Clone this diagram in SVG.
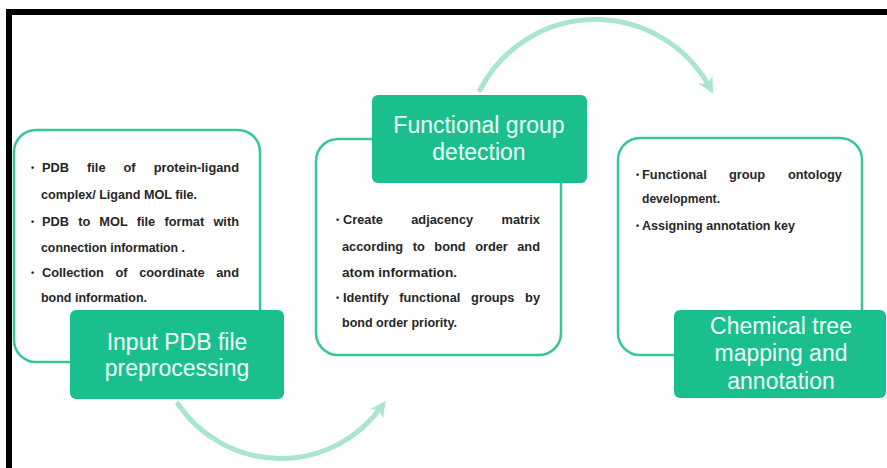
<svg xmlns="http://www.w3.org/2000/svg" width="887" height="468" viewBox="0 0 887 468">
  <style>
    .panel { fill: #ffffff; stroke: #34c79a; stroke-width: 2.5; }
    .label { fill: #1bbf8e; }
    .label-text { font-family: "Liberation Sans", Arial, sans-serif; font-size: 23px; fill: #effff8; text-anchor: middle; }
    .body { font-family: "Liberation Sans", Arial, sans-serif; font-size: 12.8px; font-weight: bold; fill: #262626; }
    .mid { text-anchor: middle; }
    .end { text-anchor: end; }
    .bullet { font-family: "Liberation Sans", Arial, sans-serif; font-size: 9px; font-weight: bold; fill: #262626; }
    .flow { fill: none; stroke: #a9e5cf; stroke-width: 5; stroke-linecap: round; }
  </style>
  <defs>
    <marker id="head" viewBox="0 0 10 10" refX="6" refY="5" markerWidth="3.2" markerHeight="3.2" orient="auto" markerUnits="strokeWidth">
      <path d="M0,0 L10,5 L0,10 L3,5 Z" fill="#a9e5cf"/>
    </marker>
  </defs>

  <rect x="0" y="0" width="887" height="468" fill="#ffffff"/>
  <!-- frame -->
  <rect x="6" y="9" width="881" height="6" fill="#000000"/>
  <rect x="6" y="9" width="6" height="459" fill="#000000"/>

  <!-- connectors -->
  <g id="connectors">
    <path class="flow" d="M480,90 A130,130 0 0 1 710,88" marker-end="url(#head)"/>
    <path class="flow" d="M178,404 A124,124 0 0 0 382,406" marker-end="url(#head)"/>
  </g>

  <!-- step 1 -->
  <g id="input-pdb">
    <rect class="panel" x="14" y="130" width="246" height="232" rx="22"/>
    <text class="bullet" x="31" y="171">•</text>
    <text class="body" x="42" y="172">PDB</text>
    <text class="body mid" x="96.3" y="172">file</text>
    <text class="body mid" x="129.6" y="172">of</text>
    <text class="body end" x="239" y="172">protein-ligand</text>
    <text class="body" x="41" y="199" textLength="156" lengthAdjust="spacingAndGlyphs">complex/ Ligand MOL file.</text>
    <text class="bullet" x="31" y="225">•</text>
    <text class="body" x="42" y="226">PDB</text>
    <text class="body mid" x="84.2" y="226">to</text>
    <text class="body mid" x="113.5" y="226">MOL</text>
    <text class="body mid" x="146" y="226">file</text>
    <text class="body mid" x="184.3" y="226">format</text>
    <text class="body end" x="239" y="226">with</text>
    <text class="body" x="41" y="252" textLength="144" lengthAdjust="spacingAndGlyphs">connection information .</text>
    <text class="bullet" x="31" y="276">•</text>
    <text class="body" x="42" y="277">Collection</text>
    <text class="body mid" x="121.5" y="277">of</text>
    <text class="body mid" x="171.9" y="277">coordinate</text>
    <text class="body end" x="239" y="277">and</text>
    <text class="body" x="41" y="302" textLength="106" lengthAdjust="spacingAndGlyphs">bond information.</text>
    <rect class="label" x="70" y="310" width="214" height="89" rx="6"/>
    <text class="label-text" x="177" y="350">Input PDB file</text>
    <text class="label-text" x="177" y="376">preprocessing</text>
  </g>

  <!-- step 2 -->
  <g id="functional-group">
    <rect class="panel" x="316" y="139" width="245" height="216" rx="22"/>
    <text class="bullet" x="336" y="223">•</text>
    <text class="body" x="343" y="224">Create</text>
    <text class="body mid" x="442.2" y="224">adjacency</text>
    <text class="body end" x="540" y="224">matrix</text>
    <text class="body" x="342" y="251">according</text>
    <text class="body mid" x="418.7" y="251">to</text>
    <text class="body mid" x="450" y="251">bond</text>
    <text class="body mid" x="491.5" y="251">order</text>
    <text class="body end" x="540" y="251">and</text>
    <text class="body" x="342" y="277" textLength="115" lengthAdjust="spacingAndGlyphs">atom information.</text>
    <text class="bullet" x="336" y="301">•</text>
    <text class="body" x="343" y="302">Identify</text>
    <text class="body mid" x="429.8" y="302">functional</text>
    <text class="body mid" x="492.8" y="302">groups</text>
    <text class="body end" x="540" y="302">by</text>
    <text class="body" x="342" y="327" textLength="115" lengthAdjust="spacingAndGlyphs">bond order priority.</text>
    <rect class="label" x="372" y="95" width="215" height="88" rx="6"/>
    <text class="label-text" x="479" y="133">Functional group</text>
    <text class="label-text" x="479" y="160">detection</text>
  </g>

  <!-- step 3 -->
  <g id="chemical-tree">
    <rect class="panel" x="618" y="138" width="244" height="217" rx="22"/>
    <text class="bullet" x="636" y="178">•</text>
    <text class="body" x="642" y="179">Functional</text>
    <text class="body mid" x="747" y="179">group</text>
    <text class="body end" x="842" y="179">ontology</text>
    <text class="body" x="642" y="203" textLength="78" lengthAdjust="spacingAndGlyphs">development.</text>
    <text class="bullet" x="636" y="229">•</text>
    <text class="body" x="642" y="230" textLength="153" lengthAdjust="spacingAndGlyphs">Assigning annotation key</text>
    <rect class="label" x="674" y="310" width="212" height="88" rx="6"/>
    <text class="label-text" x="781" y="334">Chemical tree</text>
    <text class="label-text" x="781" y="361">mapping and</text>
    <text class="label-text" x="781" y="389">annotation</text>
  </g>
</svg>
